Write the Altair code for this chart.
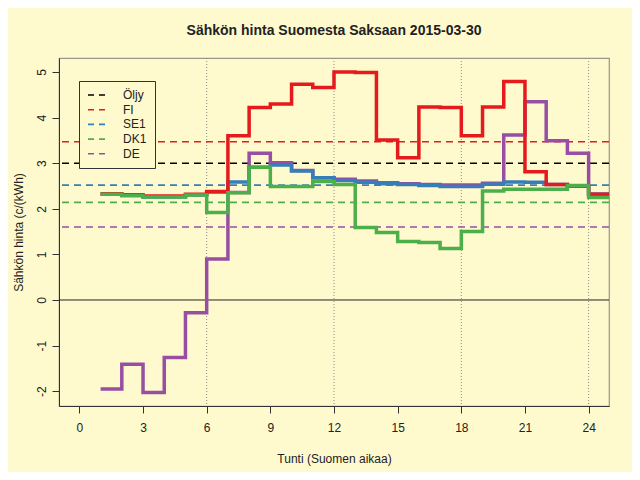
import altair as alt
import pandas as pd

# ---- data ----
hours = list(range(1, 25))
fi = [2.33, 2.31, 2.28, 2.28, 2.32, 2.38, 3.60, 4.22, 4.30, 4.73, 4.66, 5.00,
      4.99, 3.51, 3.12, 4.23, 4.22, 3.60, 4.23, 4.79, 2.81, 2.53, 2.50, 2.32]
se1 = [2.32, 2.29, 2.26, 2.26, 2.30, 2.37, 2.59, 2.91, 2.96, 2.83, 2.68, 2.62,
       2.58, 2.55, 2.53, 2.51, 2.49, 2.49, 2.54, 2.59, 2.58, 2.53, 2.50, 2.32]
dk1 = [2.32, 2.29, 2.26, 2.26, 2.30, 1.92, 2.35, 2.91, 2.49, 2.49, 2.60, 2.53,
       1.59, 1.48, 1.28, 1.26, 1.13, 1.50, 2.39, 2.43, 2.43, 2.43, 2.51, 2.25]
de = [-1.95, -1.41, -2.03, -1.26, -0.28, 0.90, 2.36, 3.22, 3.01, 2.84, 2.68, 2.65,
      2.61, 2.57, 2.55, 2.53, 2.52, 2.52, 2.56, 3.62, 4.35, 3.49, 3.22, 2.32]

mean_names = ["Öljy", "FI", "SE1", "DK1", "DE"]
mean_values = [3.00, 3.47, 2.52, 2.14, 1.60]
colors = ["#000000", "#E41A1C", "#377EB8", "#4DAF4A", "#984EA3"]

x_ticks = [0, 3, 6, 9, 12, 15, 18, 21, 24]
y_ticks = [-2, -1, 0, 1, 2, 3, 4, 5]
vlines = [6, 12, 18, 24]
zero_line = [0]

title = "Sähkön hinta Suomesta Saksaan 2015-03-30"
x_title = "Tunti (Suomen aikaa)"
y_title = "Sähkön hinta (c/(kWh)"

BG = "#FFFACD"

x_scale = alt.Scale(domain=[-0.96, 24.96], nice=False, zero=False)
y_scale = alt.Scale(domain=[-2.325, 5.307], nice=False, zero=False)

x_axis = alt.Axis(values=x_ticks, title=x_title, grid=False, tickSize=7,
                  labelPadding=9, titlePadding=20, domainColor="#333333",
                  tickColor="#333333", labelColor="#222222", titleColor="#222222",
                  labelFontSize=12, titleFontSize=12, titleFontWeight="normal")
y_axis = alt.Axis(values=y_ticks, title=y_title, grid=False, tickSize=7,
                  labelPadding=4, titlePadding=10, labelAngle=270,
                  labelExpr="replace(datum.label, '\u2212', '-')",
                  domainColor="#333333", tickColor="#333333",
                  labelColor="#222222", titleColor="#222222",
                  labelFontSize=12, titleFontSize=12, titleFontWeight="normal")


def step_df(values):
    hs = hours + [25]
    vs = values + [values[-1]]
    return pd.DataFrame({"h": hs, "v": vs})


# vertical dotted lines
vdf = pd.DataFrame({"h": vlines})
vrules = alt.Chart(vdf).mark_rule(color="#8c8c8c", strokeWidth=1, strokeDash=[1, 2]).encode(
    x=alt.X("h:Q", scale=x_scale, axis=x_axis)
)

zdf = pd.DataFrame({"v": zero_line})
zrule = alt.Chart(zdf).mark_rule(color="#222222", strokeWidth=1).encode(
    y=alt.Y("v:Q", scale=y_scale, axis=y_axis)
)

mdf = pd.DataFrame({"name": mean_names, "v": mean_values})
mrules = alt.Chart(mdf).mark_rule(strokeDash=[7, 5], strokeWidth=1.6).encode(
    y=alt.Y("v:Q", scale=y_scale, axis=y_axis),
    color=alt.Color("name:N", scale=alt.Scale(domain=mean_names, range=colors),
                    legend=alt.Legend(title=None, orient="none", legendX=20, legendY=23,
                                      strokeColor="#333333", fillColor=BG, padding=8,
                                      symbolType="stroke", symbolDash=[6, 5],
                                      symbolStrokeWidth=1.6, symbolSize=400,
                                      labelFontSize=12, labelColor="#222222",
                                      clipHeight=12, rowPadding=2.7, labelOffset=14)),
)


def step_line(values, color):
    return alt.Chart(step_df(values)).mark_line(
        interpolate="step-after", clip=True, strokeWidth=3.5, color=color
    ).encode(
        x=alt.X("h:Q", scale=x_scale, axis=x_axis),
        y=alt.Y("v:Q", scale=y_scale, axis=y_axis),
    )


chart = alt.layer(
    vrules, zrule, mrules,
    step_line(de, colors[4]),
    step_line(se1, colors[2]),
    step_line(fi, colors[1]),
    step_line(dk1, colors[3]),
).properties(
    width=550, height=348,
    title=alt.TitleParams(text=title, fontSize=14, fontWeight="bold", anchor="middle",
                          color="#222222", offset=20),
    autosize=alt.AutoSizeParams(type="none"),
    padding={"left": 51, "top": 50, "right": 23, "bottom": 66},
    background=BG,
).configure(font="Liberation Sans").configure_view(
    stroke="#9a968a", strokeWidth=1.2
)

chart.save("out.html", embed_options={"renderer": "svg", "actions": False})
